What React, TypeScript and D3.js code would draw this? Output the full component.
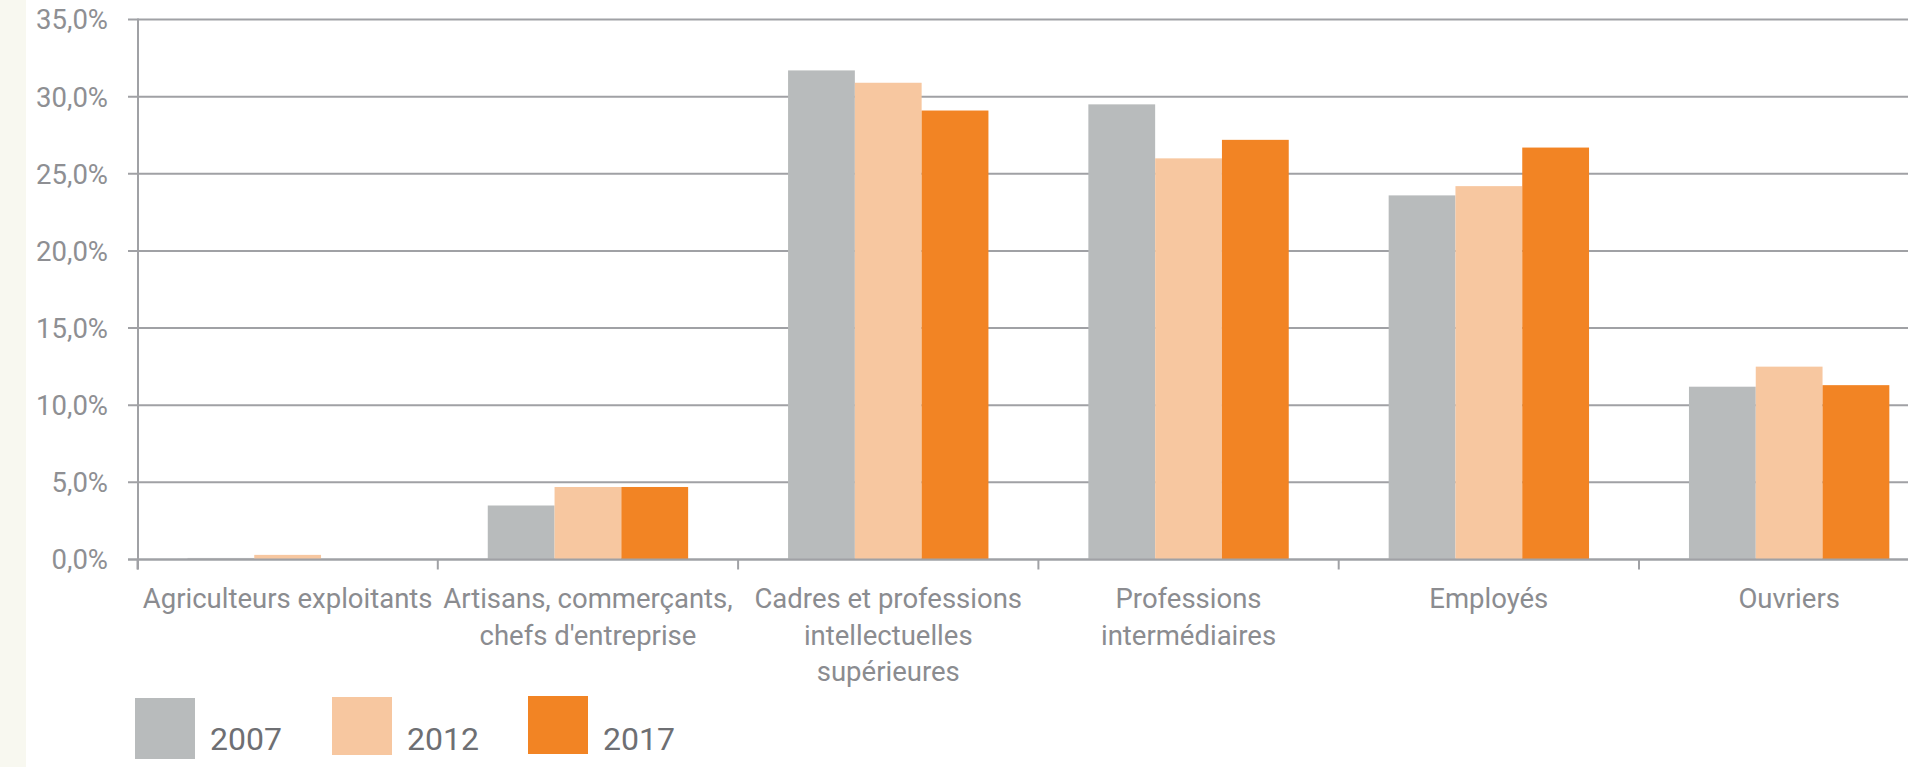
import React from "react";
import * as d3 from "d3";

const categories: string[][] = [
  ["Agriculteurs exploitants"],
  ["Artisans, commerçants,", "chefs d'entreprise"],
  ["Cadres et professions", "intellectuelles", "supérieures"],
  ["Professions", "intermédiaires"],
  ["Employés"],
  ["Ouvriers"],
];
const categoryKeys = ["agri", "artisans", "cadres", "profint", "employes", "ouvriers"];

const years = ["2007", "2012", "2017"];
const values2007 = [0.1, 3.5, 31.7, 29.5, 23.6, 11.2];
const values2012 = [0.3, 4.7, 30.9, 26.0, 24.2, 12.5];
const values2017 = [0.0, 4.7, 29.1, 27.2, 26.7, 11.3];
const seriesValues = [values2007, values2012, values2017];
const colors = ["#b8bbbc", "#f7c7a0", "#f28424"];

const yTicks = [0, 5, 10, 15, 20, 25, 30, 35];

const W = 1908;
const H = 767;
const FONT = "Roboto, 'Liberation Sans', sans-serif";

export default function App() {
  const x0 = 137.5;
  const step = 300.3;
  const x = d3
    .scaleBand<string>()
    .domain(categoryKeys)
    .range([x0, x0 + step * categoryKeys.length])
    .padding(0);
  const xi = d3
    .scaleBand<string>()
    .domain(years)
    .range([0, x.bandwidth()])
    .paddingInner(0)
    .paddingOuter(0.748);
  const y = d3.scaleLinear().domain([0, 35]).range([559.5, 19.5]);
  const fmt = (v: number) => v.toFixed(1).replace(".", ",") + "%";

  const gridColor = "#a0a1a5";
  const boundaries = d3.range(categoryKeys.length + 1).map((i) => x0 + i * step);

  const legendBoxX = [135, 332, 528];
  const legendBoxY = [698, 697, 696];
  const legendBoxH = [61, 58, 58];

  return (
    <div style={{ position: "absolute", left: 0, top: 0, width: W, height: H }}>
      <svg width={W} height={H} style={{ display: "block" }} fontFamily={FONT}>
        <rect x={0} y={0} width={W} height={H} fill="#ffffff" />
        <rect x={0} y={0} width={26} height={H} fill="#f8f8f0" />

        {/* gridlines */}
        {yTicks.map((t) => (
          <g key={t}>
            <line x1={128} x2={W} y1={y(t)} y2={y(t)} stroke={gridColor} strokeWidth={2} />
            <text
              x={108}
              y={y(t)}
              dy="0.36em"
              textAnchor="end"
              fontSize={27.5}
              fill="#8e8f93"
            >
              {fmt(t)}
            </text>
          </g>
        ))}

        {/* bars */}
        {categoryKeys.map((c, ci) => (
          <g key={c} transform={`translate(${x(c)},0)`}>
            {years.map((yr, si) => {
              const v = seriesValues[si][ci];
              return (
                <rect
                  key={yr}
                  x={xi(yr)}
                  y={y(v)}
                  width={xi.bandwidth()}
                  height={y(0) - y(v)}
                  fill={colors[si]}
                />
              );
            })}
          </g>
        ))}

        {/* axes */}
        <line x1={138} x2={138} y1={y(35) - 1} y2={y(0) + 10} stroke={gridColor} strokeWidth={2} />
        <line x1={128} x2={W} y1={y(0)} y2={y(0)} stroke={gridColor} strokeWidth={2} />
        {boundaries.map((b, i) => (
          <line key={i} x1={b} x2={b} y1={y(0)} y2={y(0) + 10} stroke={gridColor} strokeWidth={2} />
        ))}

        {/* category labels */}
        {categoryKeys.map((c, ci) => (
          <text
            key={c}
            x={(x(c) as number) + x.bandwidth() / 2}
            y={608}
            textAnchor="middle"
            fontSize={27.5}
            fill="#8b8c90"
          >
            {categories[ci].map((line, li) => (
              <tspan key={li} x={(x(c) as number) + x.bandwidth() / 2} dy={li === 0 ? 0 : 36.5}>
                {line}
              </tspan>
            ))}
          </text>
        ))}

        {/* legend */}
        {years.map((yr, i) => (
          <g key={yr}>
            <rect x={legendBoxX[i]} y={legendBoxY[i]} width={60} height={legendBoxH[i]} fill={colors[i]} />
            <text x={legendBoxX[i] + 75} y={750} fontSize={32} fill="#6e6f73">
              {yr}
            </text>
          </g>
        ))}
      </svg>
    </div>
  );
}
